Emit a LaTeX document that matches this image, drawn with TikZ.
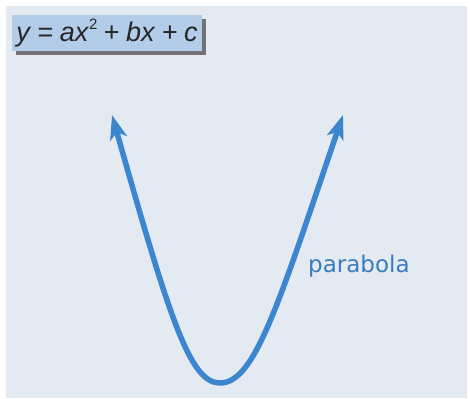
\documentclass[tikz,border=0pt]{standalone}
\usepackage{fontspec}
\setmainfont{DejaVu Sans}
\newfontfamily\eqfont{Liberation Sans}
\usetikzlibrary{arrows.meta,shadows}
\definecolor{bgpanel}{HTML}{E3EAF1}
\definecolor{eqfill}{HTML}{B3CCEA}
\definecolor{curveblue}{HTML}{3B86CF}
\definecolor{labelblue}{HTML}{3B7BC0}
\newcommand{\eqgap}{\hspace{0.24em}}
\tikzset{
  equation/.style={rectangle,fill=eqfill,minimum width=190pt,
                   minimum height=36pt,inner sep=0pt,text=black!85,
                   drop shadow={shadow xshift=4pt,shadow yshift=-4pt,
                                fill=black!55,opacity=1},
                   font=\eqfont\fontsize{27}{29}\selectfont},
  curvelabel/.style={text=labelblue,inner sep=0pt,
                     font=\fontsize{23}{25}\selectfont},
  curve/.style={draw=curveblue,line width=5.5pt,
                {Stealth[length=24pt,width=17pt,inset=6pt]}-{Stealth[length=24pt,width=17pt,inset=6pt]}}
}
\begin{document}
\begin{tikzpicture}[x=1pt,y=-1pt]
  \useasboundingbox (0,0) rectangle (470,398);
  \fill[bgpanel] (6,6) rectangle (467,398);

  % Nodes
  \node (eq)    [equation] at (107,33)
        {\textit{y}\eqgap=\eqgap\textit{ax}\raisebox{0.85ex}{\fontsize{15}{16}\selectfont 2}\eqgap+\eqgap\textit{bx}\eqgap+\eqgap\textit{c}};
  \node (label) [curvelabel,anchor=base west] at (308,272) {parabola};
  \coordinate (lefttip)  at (112,115);
  \coordinate (vertex)   at (220,383);
  \coordinate (righttip) at (343,115);

  % Curve
  \draw [curve] (lefttip) .. controls (170,320) and (190,383) .. (vertex)
                          .. controls (255,383) and (278,305) .. (righttip);
\end{tikzpicture}
\end{document}
